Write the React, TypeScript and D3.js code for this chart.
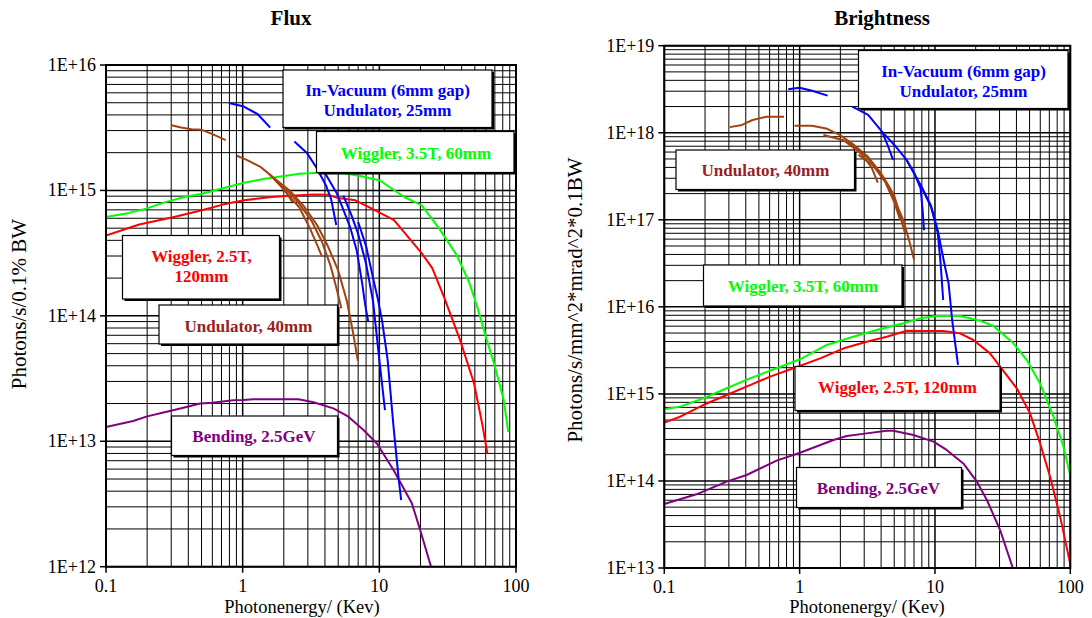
import React from 'react';
import * as d3 from 'd3';

type Pt = [number, number];

// ---------------- Axis ticks ----------------
const xTickValues = [0.1, 1, 10, 100];
const xTickLabels = ['0.1', '1', '10', '100'];
const fluxTickValues = [1e12, 1e13, 1e14, 1e15, 1e16];
const fluxTickLabels = ['1E+12', '1E+13', '1E+14', '1E+15', '1E+16'];
const brightTickValues = [1e13, 1e14, 1e15, 1e16, 1e17, 1e18, 1e19];
const brightTickLabels = ['1E+13', '1E+14', '1E+15', '1E+16', '1E+17', '1E+18', '1E+19'];

// ---------------- Flux panel data ----------------
const fluxBending: Pt[] = [
  [0.1, 1.3e13], [0.158, 1.45e13], [0.2, 1.58e13], [0.278, 1.72e13], [0.375, 1.86e13], [0.488, 2.0e13],
  [0.6, 2.03e13], [0.855, 2.12e13], [1.0, 2.13e13], [1.2, 2.16e13], [2.56, 2.16e13], [3.3, 2.05e13],
  [4.61, 1.83e13], [5.94, 1.57e13], [7.66, 1.23e13], [9.6, 9.6e12], [12.7, 5.9e12], [17.3, 3.2e12],
  [19.9, 1.96e12], [23.9, 1.0e12],
];
const fluxWiggler25: Pt[] = [
  [0.1, 4.36e14], [0.175, 5.35e14], [0.315, 6.15e14], [0.503, 6.95e14], [0.716, 7.71e14], [1.02, 8.34e14],
  [1.63, 8.86e14], [2.07, 9.02e14], [3.3, 9.3e14], [4.18, 9.25e14], [4.99, 8.69e14], [6.69, 8.34e14],
  [8.97, 7.08e14], [12.8, 5.79e14], [20.4, 3.16e14], [24.4, 2.4e14], [29.9, 1.39e14], [39.0, 6.4e13],
  [49.3, 2.9e13], [57.1, 1.31e13], [61.7, 8.0e12],
];
const fluxWiggler35: Pt[] = [
  [0.1, 6.15e14], [0.147, 6.62e14], [0.197, 7.16e14], [0.264, 7.99e14], [0.375, 8.86e14], [0.503, 9.41e14],
  [0.716, 1.04e15], [1.02, 1.15e15], [1.45, 1.24e15], [2.07, 1.31e15], [2.61, 1.36e15], [3.3, 1.38e15],
  [5.28, 1.38e15], [7.1, 1.31e15], [10.1, 1.2e15], [15.2, 8.86e14], [20.4, 7.6e14], [27.4, 4.98e14],
  [36.8, 3.05e14], [45.2, 1.88e14], [52.3, 1.16e14], [60.7, 6.6e13], [70.3, 3.9e13], [81.3, 2.13e13],
  [87.8, 1.19e13],
];
const fluxUnd40a: Pt[] = [[0.302, 3.31e15], [0.354, 3.17e15], [0.422, 3.07e15], [0.503, 3.04e15], [0.601, 2.81e15], [0.751, 2.52e15]];
const fluxUnd40b: Pt[] = [[0.906, 1.89e15], [1.07, 1.75e15], [1.34, 1.55e15], [1.59, 1.33e15], [1.88, 1.1e15], [2.1, 9.5e14], [2.31, 8.1e14]];
const fluxUnd40c: Pt[] = [[1.59, 1.33e15], [2.0, 1.02e15], [2.6, 7.3e14], [3.1, 5.0e14], [3.5, 3.7e14], [3.81, 2.96e14]];
const fluxUnd40d: Pt[] = [[1.59, 1.33e15], [2.05, 1.05e15], [2.6, 7.8e14], [3.2, 5.7e14], [3.8, 3.9e14], [4.4, 2.5e14], [4.9, 1.6e14], [5.27, 1.15e14]];
const fluxUnd40e: Pt[] = [[1.7, 1.25e15], [2.2, 1.0e15], [2.8, 7.5e14], [3.5, 5.3e14], [4.2, 3.6e14], [5.0, 2.3e14], [5.8, 1.3e14], [6.4, 7.5e13], [6.97, 4.37e13]];
const fluxIVUa: Pt[] = [[0.792, 4.98e15], [1.02, 4.66e15], [1.29, 4.05e15], [1.59, 3.17e15]];
const fluxIVUb: Pt[] = [[2.39, 2.46e15], [2.94, 2.0e15], [3.51, 1.49e15], [4.06, 1.1e15], [4.43, 8.6e14], [4.84, 5.3e14]];
const fluxIVUc: Pt[] = [[3.51, 1.49e15], [4.01, 1.37e15], [4.88, 9.5e14], [5.46, 7.0e14], [6.11, 5.1e14], [6.84, 3.3e14], [7.5, 1.8e14], [7.9, 1.2e14], [8.3, 9.0e13]];
const fluxIVUd: Pt[] = [[5.45, 9.1e14], [6.2, 6.5e14], [7.0, 4.5e14], [8.0, 2.6e14], [9.0, 1.3e14], [10.0, 4.45e13], [11.0, 1.77e13]];
const fluxIVUe: Pt[] = [[7.0, 5.6e14], [8.0, 3.6e14], [9.0, 2.0e14], [9.8, 1.33e14], [10.5, 9.0e13], [11.5, 4.45e13], [12.7, 1.31e13], [13.8, 5.2e12], [14.45, 3.4e12]];

// ---------------- Brightness panel data ----------------
const brBending: Pt[] = [
  [0.1, 5.43e13], [0.173, 7.02e13], [0.289, 9.81e13], [0.406, 1.17e14], [0.676, 1.71e14], [1.006, 2.11e14],
  [1.78, 2.95e14], [2.23, 3.28e14], [3.13, 3.52e14], [4.4, 3.78e14], [4.93, 3.78e14], [6.93, 3.37e14],
  [9.75, 2.83e14], [12.2, 2.27e14], [16.2, 1.59e14], [20.4, 9.8e13], [24.2, 6.04e13], [30.3, 2.73e13],
  [38.0, 9.5e12],
];
const brWiggler25: Pt[] = [
  [0.1, 4.68e14], [0.131, 5.47e14], [0.194, 7.45e14], [0.289, 9.71e14], [0.43, 1.26e15], [0.605, 1.58e15],
  [0.899, 1.97e15], [1.42, 2.56e15], [2.12, 3.34e15], [3.13, 3.98e15], [4.4, 4.54e15], [6.18, 5.32e15],
  [8.68, 5.28e15], [11.5, 5.28e15], [15.3, 4.97e15], [19.2, 4.16e15], [25.5, 2.92e15], [30.3, 2.06e15],
  [40.2, 1.16e15], [50.4, 5.98e14], [59.8, 2.7e14], [70.9, 1.12e14], [84.1, 3.89e13], [99.7, 1.13e13],
];
const brWiggler35: Pt[] = [
  [0.1, 6.65e14], [0.131, 7.14e14], [0.194, 8.89e14], [0.289, 1.16e15], [0.43, 1.51e15], [0.676, 1.97e15],
  [1.006, 2.5e15], [1.585, 3.65e15], [2.49, 4.54e15], [3.71, 5.42e15], [5.85, 6.47e15], [7.76, 7.38e15],
  [10.3, 7.85e15], [15.3, 7.85e15], [21.5, 6.94e15], [27.0, 6.02e15], [38.0, 3.81e15], [47.7, 2.45e15],
  [59.8, 1.32e15], [75.1, 5.47e14], [89.1, 2.48e14], [100, 1.15e14],
];
const brUnd40a: Pt[] = [[0.305, 1.16e18], [0.375, 1.23e18], [0.449, 1.4e18], [0.569, 1.53e18], [0.767, 1.53e18]];
const brUnd40b: Pt[] = [[0.917, 1.2e18], [1.235, 1.2e18], [1.57, 1.12e18], [1.99, 9.4e17], [2.53, 7.2e17], [3.2, 5.3e17], [3.83, 3.7e17], [4.58, 2.4e17], [5.16, 1.55e17], [5.82, 1.0e17], [6.4, 6.0e16], [7.0, 3.5e16]];
const brUnd40c: Pt[] = [[1.5, 9.4e17], [2.11, 8.2e17], [2.84, 5.8e17], [3.4, 4.0e17], [3.78, 2.67e17]];
const brUnd40d: Pt[] = [[2.72, 5.6e17], [3.5, 4.2e17], [4.3, 2.7e17], [5.0, 1.6e17], [5.52, 1.0e17]];
const brUnd40e: Pt[] = [[2.2, 8.0e17], [3.0, 5.7e17], [4.0, 3.4e17], [5.0, 1.9e17], [6.01, 7.0e16]];
const brIVUa: Pt[] = [[0.824, 3.16e18], [1.0, 3.29e18], [1.235, 3.04e18], [1.61, 2.67e18]];
const brIVUb: Pt[] = [[2.45, 1.99e18], [3.21, 1.6e18], [4.06, 1.03e18], [4.5, 7.0e17], [4.9, 4.87e17]];
const brIVUc: Pt[] = [[4.06, 1.03e18], [5.15, 6.9e17], [6.17, 4.87e17], [7.0, 3.5e17], [7.83, 2.3e17], [8.1, 1.3e17], [8.3, 7.6e16]];
const brIVUd: Pt[] = [[6.17, 4.87e17], [7.83, 2.51e17], [9.35, 1.41e17], [10.5, 7.0e16], [11.0, 3.2e16], [11.5, 1.2e16]];
const brIVUe: Pt[] = [[7.83, 2.51e17], [9.35, 1.45e17], [10.5, 7.5e16], [11.8, 3.0e16], [12.6, 1.87e16], [13.4, 7.06e15], [14.8, 2.15e15]];

const BLUE = '#0000FF';
const GREEN = '#00FF00';
const RED = '#FF0000';
const PURPLE = '#800080';
const BROWN = '#A3420F';
const MAROON = '#9A1E1E';

interface Series { data: Pt[]; color: string }
interface Box { lines: string[]; color: string; x0: number; y0: number; x1: number; y1: number; cx: number; cy: number[] }

const FONT = '"Liberation Serif", "Times New Roman", serif';

interface PanelProps {
  id: string;
  left: number; right: number; top: number; bottom: number;
  yTickValues: number[]; yTickLabels: string[];
  series: Series[]; boxes: Box[];
  title: string; titleX: number;
  yTitle: string; yTitleX: number; yTitleY: number;
  xTitleX: number;
}

function Panel(p: PanelProps) {
  const x = d3.scaleLog().domain([0.1, 100]).range([p.left, p.right]);
  const yMin = p.yTickValues[0];
  const yMax = p.yTickValues[p.yTickValues.length - 1];
  const y = d3.scaleLog().domain([yMin, yMax]).range([p.bottom, p.top]);
  const xMinor: number[] = [];
  for (let i = 0; i < xTickValues.length - 1; i++) for (let m = 2; m <= 9; m++) xMinor.push(xTickValues[i] * m);
  const yMinor: number[] = [];
  for (let i = 0; i < p.yTickValues.length - 1; i++) for (let m = 2; m <= 9; m++) yMinor.push(p.yTickValues[i] * m);
  const line = d3.line<Pt>().x(d => x(d[0])).y(d => y(d[1]));
  return (
    <g>
      <defs>
        <clipPath id={p.id}>
          <rect x={p.left} y={p.top} width={p.right - p.left} height={p.bottom - p.top} />
        </clipPath>
      </defs>
      {xMinor.map((v, i) => (
        <line key={'xm' + i} x1={x(v)} x2={x(v)} y1={p.top} y2={p.bottom} stroke="#000" strokeWidth={1} />
      ))}
      {yMinor.map((v, i) => (
        <line key={'ym' + i} x1={p.left} x2={p.right} y1={y(v)} y2={y(v)} stroke="#000" strokeWidth={1} />
      ))}
      {xTickValues.map((v, i) => (
        <line key={'xM' + i} x1={x(v)} x2={x(v)} y1={p.top} y2={p.bottom} stroke="#000" strokeWidth={1.5} />
      ))}
      {p.yTickValues.map((v, i) => (
        <line key={'yM' + i} x1={p.left} x2={p.right} y1={y(v)} y2={y(v)} stroke="#000" strokeWidth={1.5} />
      ))}
      <g clipPath={`url(#${p.id})`}>
        {p.series.map((s, i) => (
          <path key={'s' + i} d={line(s.data) || ''} fill="none" stroke={s.color} strokeWidth={2} strokeLinejoin="round" />
        ))}
      </g>
      <rect x={p.left} y={p.top} width={p.right - p.left} height={p.bottom - p.top} fill="none" stroke="#000" strokeWidth={2} />
      {p.yTickValues.map((v, i) => (
        <g key={'yt' + i}>
          <line x1={p.left - 6} x2={p.left} y1={y(v)} y2={y(v)} stroke="#000" strokeWidth={1.5} />
          <text x={p.left - 10} y={y(v)} dy="0.33em" textAnchor="end" fontSize={18} fontFamily={FONT}>{p.yTickLabels[i]}</text>
        </g>
      ))}
      {xTickValues.map((v, i) => (
        <g key={'xt' + i}>
          <line x1={x(v)} x2={x(v)} y1={p.bottom} y2={p.bottom + 6} stroke="#000" strokeWidth={1.5} />
          <text x={x(v)} y={p.bottom + 25} textAnchor="middle" fontSize={18} fontFamily={FONT}>{xTickLabels[i]}</text>
        </g>
      ))}
      {p.boxes.map((b, i) => (
        <g key={'b' + i}>
          <rect x={b.x0 + 2} y={b.y0 + 2} width={b.x1 - b.x0} height={b.y1 - b.y0} fill="#000" />
          <rect x={b.x0} y={b.y0} width={b.x1 - b.x0} height={b.y1 - b.y0} fill="#fff" stroke="#000" strokeWidth={1.2} />
          {b.lines.map((t, j) => (
            <text key={j} x={b.cx} y={b.cy[j]} dy="0.35em" textAnchor="middle" fontSize={17} fontWeight="bold" fontFamily={FONT} fill={b.color}>{t}</text>
          ))}
        </g>
      ))}
      <text x={p.titleX} y={25} textAnchor="middle" fontSize={21} fontWeight="bold" fontFamily={FONT}>{p.title}</text>
      <text x={p.xTitleX} y={613} textAnchor="middle" fontSize={18.5} fontFamily={FONT}>Photonenergy/ (Kev)</text>
      <text transform={`translate(${p.yTitleX},${p.yTitleY}) rotate(-90)`} textAnchor="middle" fontSize={21} fontFamily={FONT}>{p.yTitle}</text>
    </g>
  );
}

export default function App() {
  const fluxSeries: Series[] = [
    { data: fluxBending, color: PURPLE },
    { data: fluxWiggler25, color: RED },
    { data: fluxWiggler35, color: GREEN },
    { data: fluxUnd40a, color: BROWN },
    { data: fluxUnd40b, color: BROWN },
    { data: fluxUnd40c, color: BROWN },
    { data: fluxUnd40d, color: BROWN },
    { data: fluxUnd40e, color: BROWN },
    { data: fluxIVUa, color: BLUE },
    { data: fluxIVUb, color: BLUE },
    { data: fluxIVUc, color: BLUE },
    { data: fluxIVUd, color: BLUE },
    { data: fluxIVUe, color: BLUE },
  ];
  const brSeries: Series[] = [
    { data: brBending, color: PURPLE },
    { data: brWiggler25, color: RED },
    { data: brWiggler35, color: GREEN },
    { data: brUnd40a, color: BROWN },
    { data: brUnd40b, color: BROWN },
    { data: brUnd40c, color: BROWN },
    { data: brUnd40d, color: BROWN },
    { data: brUnd40e, color: BROWN },
    { data: brIVUa, color: BLUE },
    { data: brIVUb, color: BLUE },
    { data: brIVUc, color: BLUE },
    { data: brIVUd, color: BLUE },
    { data: brIVUe, color: BLUE },
  ];
  const fluxBoxes: Box[] = [
    { lines: ['In-Vacuum (6mm gap)', 'Undulator, 25mm'], color: BLUE, x0: 283, y0: 70, x1: 492, y1: 127.5, cx: 387.5, cy: [90.5, 110.5] },
    { lines: ['Wiggler, 3.5T, 60mm'], color: GREEN, x0: 316.5, y0: 131.5, x1: 514, y1: 172.5, cx: 416, cy: [153] },
    { lines: ['Wiggler, 2.5T,', '120mm'], color: RED, x0: 122.5, y0: 235.5, x1: 279.5, y1: 299, cx: 201.5, cy: [256.5, 276.5] },
    { lines: ['Undulator, 40mm'], color: MAROON, x0: 159, y0: 305, x1: 337.5, y1: 344, cx: 248.5, cy: [326.5] },
    { lines: ['Bending, 2.5GeV'], color: PURPLE, x0: 171.5, y0: 416, x1: 337.5, y1: 455.5, cx: 254, cy: [436] },
  ];
  const brBoxes: Box[] = [
    { lines: ['In-Vacuum (6mm gap)', 'Undulator, 25mm'], color: BLUE, x0: 858.5, y0: 50.5, x1: 1068, y1: 108.5, cx: 963.5, cy: [71.5, 91.5] },
    { lines: ['Undulator, 40mm'], color: MAROON, x0: 676, y0: 150, x1: 854.5, y1: 189.5, cx: 765.5, cy: [170.5] },
    { lines: ['Wiggler, 3.5T, 60mm'], color: GREEN, x0: 703.5, y0: 265, x1: 902, y1: 306, cx: 803, cy: [286] },
    { lines: ['Wiggler, 2.5T, 120mm'], color: RED, x0: 795, y0: 366.5, x1: 1000, y1: 410.5, cx: 897.5, cy: [387.5] },
    { lines: ['Bending, 2.5GeV'], color: PURPLE, x0: 796.5, y0: 467.5, x1: 961.5, y1: 507.5, cx: 878.5, cy: [488] },
  ];
  return (
    <svg width={1092} height={618} style={{ position: 'absolute', left: 0, top: 0, background: '#fff' }}>
      <rect x={0} y={0} width={1092} height={618} fill="#fff" />
      <Panel
        id="clipFlux" left={106} right={516} top={65} bottom={566.7}
        yTickValues={fluxTickValues} yTickLabels={fluxTickLabels}
        series={fluxSeries} boxes={fluxBoxes}
        title="Flux" titleX={291}
        yTitle="Photons/s/0.1% BW" yTitleX={26} yTitleY={304}
        xTitleX={302}
      />
      <Panel
        id="clipBright" left={664.3} right={1070.3} top={45.7} bottom={568}
        yTickValues={brightTickValues} yTickLabels={brightTickLabels}
        series={brSeries} boxes={brBoxes}
        title="Brightness" titleX={882}
        yTitle="Photons/s/mm^2*mrad^2*0.1BW" yTitleX={582} yTitleY={300}
        xTitleX={867}
      />
    </svg>
  );
}
